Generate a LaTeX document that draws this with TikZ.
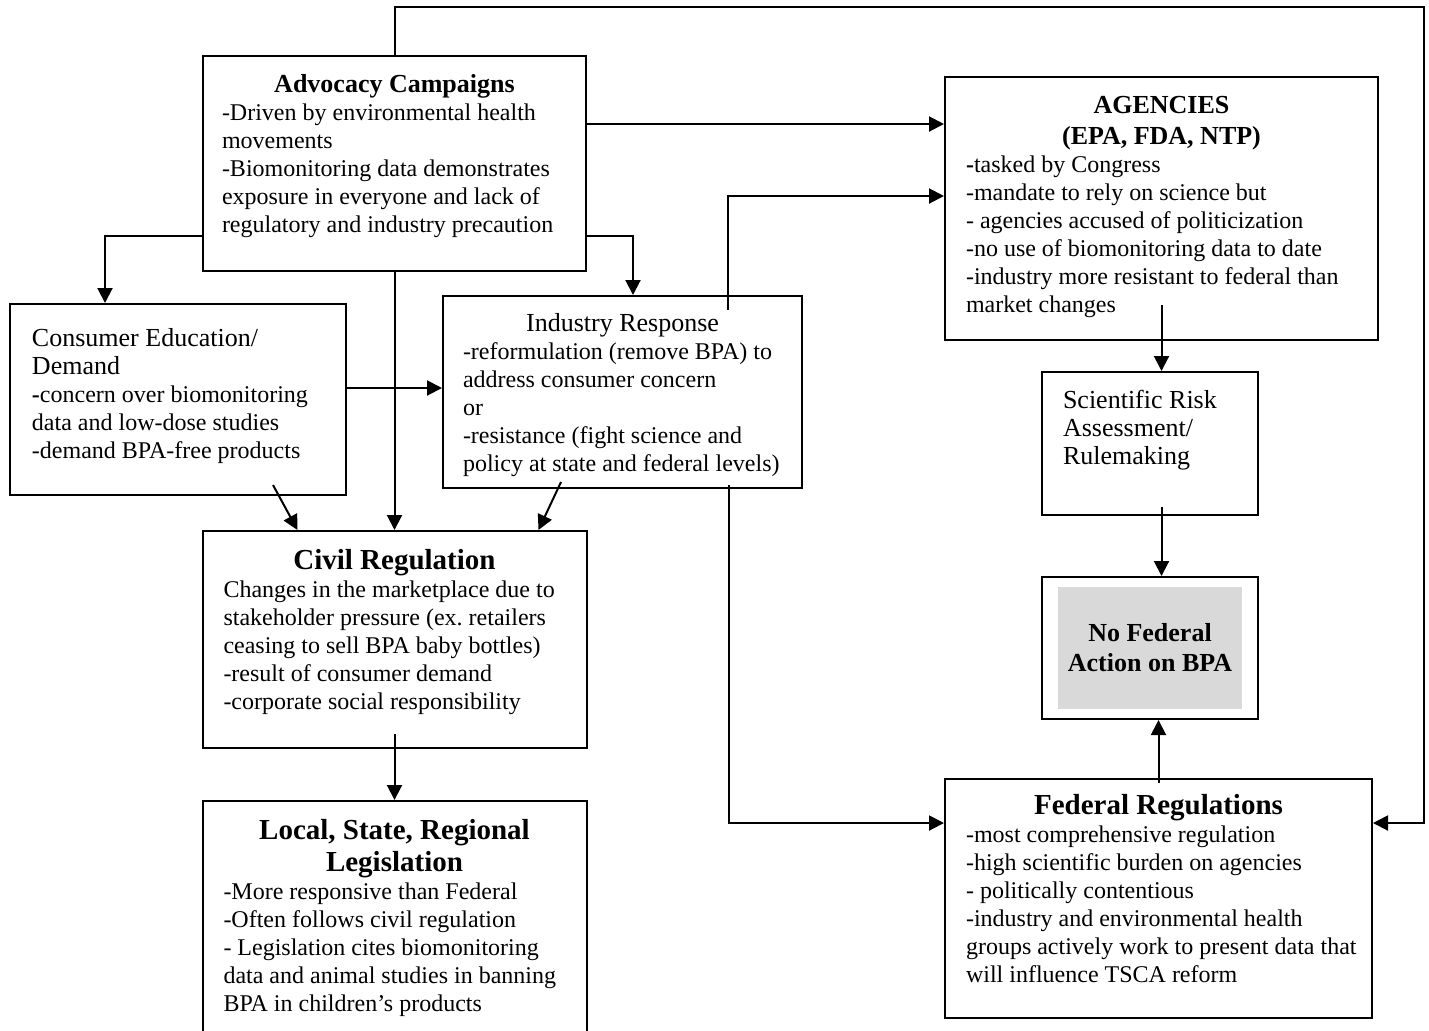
\documentclass[tikz,border=0pt]{standalone}
\usepackage{fontspec}
\setmainfont{Liberation Serif}
\usetikzlibrary{arrows.meta, positioning, calc}
\definecolor{nofedgray}{HTML}{D9D9D9}
\frenchspacing

\begin{document}
\begin{tikzpicture}[
        x=0.5pt, y=-0.5pt,
        frame/.style={rectangle, draw, line width=1pt},
        box/.style={frame, anchor=north west, align=flush left, inner ysep=0pt, font=\fontsize{12}{14}\selectfont},
        arrow/.style={line width=1pt, ->, >={Triangle[length=7.5pt, width=7.5pt]}}
    ]
        \useasboundingbox (0,0) rectangle (1429,1030);
        \clip (0,0) rectangle (1429,1030);

        % Left part (campaigns and market)
        \node[box, text width=172.5pt, inner xsep=9.5pt, text height=18pt, text depth=89.5pt] (adv) at (202,55) {%
            {\centering\fontsize{13}{15.5}\selectfont\bfseries Advocacy Campaigns\par}
            -Driven by environmental health\\ movements\\ -Biomonitoring data demonstrates\\ exposure in everyone and lack of\\ regulatory and industry precaution};
        \node[box, text width=146pt, inner xsep=11pt, text height=21pt, text depth=74.5pt] (consumer) at (9,303) {%
            {\fontsize{13}{14}\selectfont Consumer Education/\\ Demand\par}
            \textbf{-}concern over biomonitoring\\ data and low-dose studies\\ -demand BPA-free products};
        \node[box, text width=159.5pt, inner xsep=10pt, text height=17.5pt, text depth=78.5pt] (industry) at (442,295) {%
            {\centering\fontsize{13}{15}\selectfont Industry Response\par}
            -reformulation (remove BPA) to\\ address consumer concern\\ or\\ -resistance (fight science and\\ \mbox{policy at state and federal levels)}};
        \node[box, text width=171pt, inner xsep=10.5pt, text height=19pt, text depth=89.5pt, below=129pt of adv] (civil) {%
            {\centering\fontsize{14.5}{16.5}\selectfont\bfseries Civil Regulation\par}
            Changes in the marketplace due to\\ stakeholder pressure (ex. retailers\\ ceasing to sell BPA baby bottles)\\ -result of consumer demand\\ -corporate social responsibility};
        \node[box, text width=171pt, inner xsep=10.5pt, text height=19pt, text depth=101pt, below=25.5pt of civil] (local) {%
            {\centering\fontsize{14.5}{16}\selectfont\bfseries Local, State, Regional\\ Legislation\par}
            -More responsive than Federal\\ -Often follows civil regulation\\ - Legislation cites biomonitoring\\ \mbox{data and animal studies in banning}\\ BPA in children’s products};

        % Right part (federal track)
        \node[box, text width=195.5pt, inner xsep=10.5pt, text height=18pt, text depth=113.5pt] (agencies) at (944,76) {%
            {\centering\fontsize{13}{15.5}\selectfont\bfseries AGENCIES\\ (EPA, FDA, NTP)\par}
            \textbf{-}tasked by Congress\\ -mandate to rely on science but\\ - agencies accused of politicization\\ -no use of biomonitoring data to date\\ \mbox{-industry more resistant to federal than}\\ market changes};
        \node[box, text width=87pt, inner xsep=10.5pt, text height=18pt, text depth=53.5pt, below=15pt of agencies, xshift=-5.75pt] (sci) {%
            {\fontsize{13}{14}\selectfont Scientific Risk\\ Assessment/\\ Rulemaking}};
        \node[frame, minimum width=108pt, minimum height=71pt, below=30pt of sci] (nofed) {};
        \node[fill=nofedgray, minimum width=92pt, minimum height=61pt, inner sep=0pt, align=center, font=\fontsize{13}{15}\selectfont\bfseries] (nofedtxt) at (nofed.center) {No Federal\\ Action on BPA};
        \node[box, text width=192.5pt, inner xsep=10.5pt, text height=17.5pt, text depth=102pt, below=29pt of nofed, xshift=4.25pt] (fed) {%
            {\centering\fontsize{14.5}{16.5}\selectfont\bfseries Federal Regulations\par}
            -most comprehensive regulation\\ -high scientific burden on agencies\\ - politically contentious\\ -industry and environmental health\\ \mbox{groups actively work to present data that}\\ will influence TSCA reform};

        \coordinate (loop) at (1424,7);

        % Edges
        \draw[arrow] (adv.north) |- (loop) |- ($(fed.north east)+(0,45)$);
        \draw[arrow] ($(adv.north east)+(0,69)$) -- ($(agencies.north west)+(0,48)$);
        \draw[arrow] ($(adv.north east)+(0,181)$) -| ($(industry.north west)+(191,0)$);
        \draw[arrow] ($(adv.north west)+(0,181)$) -| ($(consumer.north west)+(96,0)$);
        \draw[arrow] (adv.south) -- (civil.north);

        \draw[arrow] ($(consumer.north east)+(0,85)$) -- ($(industry.north west)+(0,93)$);
        \draw[arrow] ($(consumer.south west)+(264,-11)$) -- ($(civil.north west)+(96,0)$);
        \draw[arrow] ($(industry.south west)+(119,-7)$) -- ($(civil.north west)+(337,0)$);
        \draw[arrow] ($(industry.north west)+(286,15)$) |- ($(agencies.north west)+(0,120)$);
        \draw[arrow] ($(industry.south west)+(287,-4)$) |- ($(fed.north west)+(0,45)$);
        \draw[arrow] ($(civil.south)+(0,-15)$) -- (local.north);

        \draw[arrow] ($(agencies.south)+(0,-36)$) -- (agencies.south |- sci.north);
        \draw[arrow] ($(agencies.south |- sci.south)+(0,-9)$) -- (agencies.south |- nofed.north);
        \draw[arrow] ($(fed.north)+(0,5)$) -- (fed.north |- nofed.south);

    \end{tikzpicture}
\end{document}
